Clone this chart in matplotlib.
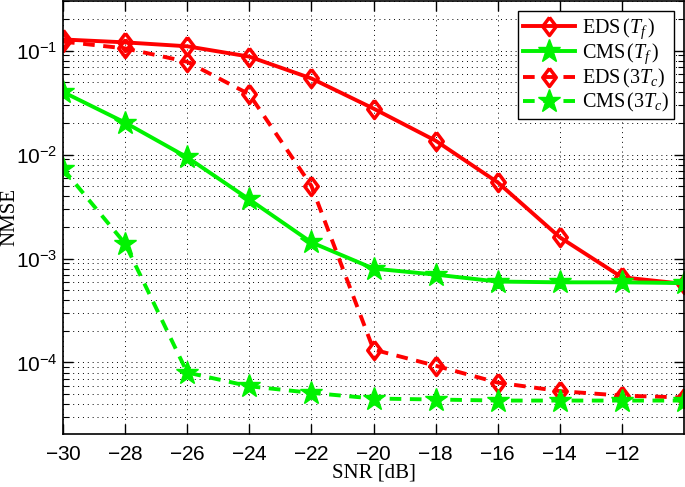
import matplotlib
matplotlib.use("Agg")
import matplotlib.pyplot as plt
from matplotlib.ticker import FixedLocator, LogLocator, FuncFormatter, NullFormatter
import numpy as np

snr = [-30, -28, -26, -24, -22, -20, -18, -16, -14, -12, -10]
eds_tf = [0.128, 0.120, 0.110, 0.0875, 0.054, 0.0277, 0.0136, 0.0054, 0.0016, 6.6e-4, 5.7e-4]
cms_tf = [0.040, 0.0203, 0.0094, 0.0037, 1.43e-3, 8.0e-4, 7.0e-4, 6.0e-4, 5.9e-4, 5.9e-4, 5.8e-4]
eds_3tc = [0.122, 0.105, 0.078, 0.038, 0.005, 1.33e-4, 9.3e-5, 6.4e-5, 5.3e-5, 4.8e-5, 4.6e-5]
cms_3tc = [7.3e-3, 1.39e-3, 8.0e-5, 5.9e-5, 5.1e-5, 4.5e-5, 4.4e-5, 4.3e-5, 4.3e-5, 4.3e-5, 4.3e-5]
labels = [r"EDS$\,(T_f\,)$", r"CMS$\,(T_f\,)$", r"EDS$\,(3T_c)$", r"CMS$\,(3T_c)$"]
xticks = [-30, -28, -26, -24, -22, -20, -18, -16, -14, -12]

plt.rcParams['mathtext.fontset'] = 'custom'
plt.rcParams['mathtext.rm'] = 'Liberation Serif'
plt.rcParams['mathtext.it'] = 'Liberation Serif:italic'
plt.rcParams['mathtext.sf'] = 'Liberation Sans'

fig = plt.figure(figsize=(6.85, 4.87), dpi=100)
ax = fig.add_axes([63/685, 1-434/487, 621/685, 433/487])

red = (1, 0, 0)
green = (0, 0.95, 0)
diamond = [(0, 1), (0.75, 0), (0, -1), (-0.75, 0), (0, 1)]
ax.plot(snr, eds_tf, '-', color=red, lw=2.8, marker=diamond, ms=13, mfc='none', mew=2.5, label=labels[0])
ax.plot(snr, cms_tf, '-', color=green, lw=2.8, marker='*', ms=17, mew=1, label=labels[1])
ax.plot(snr, eds_3tc, '--', color=red, lw=2.8, marker=diamond, ms=13, mfc='none', mew=2.5, label=labels[2], dashes=(3, 2.2))
ax.plot(snr, cms_3tc, '--', color=green, lw=2.8, marker='*', ms=17, mew=1, label=labels[3], dashes=(3, 2.2))

ax.set_yscale('log')
ax.set_xlim(-30, -10)
ax.set_ylim(2.05e-5, 0.3)
ax.xaxis.set_major_locator(FixedLocator(xticks))
ax.yaxis.set_major_locator(LogLocator(base=10, numticks=10))
ax.yaxis.set_minor_locator(LogLocator(base=10, subs=np.arange(2, 10), numticks=20))
ax.yaxis.set_minor_formatter(NullFormatter())
ax.yaxis.set_major_formatter(FuncFormatter(lambda v, p: r"$\mathsf{10^{%d}}$" % int(round(np.log10(v)))))
ax.set_xticklabels([r"$\mathsf{-%d}$" % abs(t) for t in xticks])

ax.grid(True, which='major', color='black', linestyle=(0, (1, 4)), linewidth=0.7)
ax.grid(True, which='minor', axis='y', color='black', linestyle=(0, (1, 4)), linewidth=0.7)
ax.tick_params(which='both', direction='in', top=True, right=True, labelsize=15)
ax.tick_params(which='major', length=7, width=1)
ax.tick_params(axis='x', which='major', pad=7)
ax.tick_params(axis='y', which='major', pad=4)
ax.tick_params(which='minor', length=4, width=0.8)
for s in ax.spines.values():
    s.set_linewidth(1.2)

ax.set_xlabel("SNR [dB]", family='Liberation Serif', fontsize=15, labelpad=0)
ax.set_ylabel("NMSE", family='Liberation Serif', fontsize=15)
ax.yaxis.set_label_coords(-0.071, 0.5)

leg = ax.legend(loc='upper right', fancybox=False, edgecolor='black', framealpha=1,
                handlelength=2.6, borderaxespad=0.5, labelspacing=0.05, borderpad=0.25, handletextpad=0.3,
                prop={'family': 'Liberation Serif', 'size': 14.5})
leg.get_frame().set_linewidth(1.0)

fig.savefig("out.png", dpi=100)
